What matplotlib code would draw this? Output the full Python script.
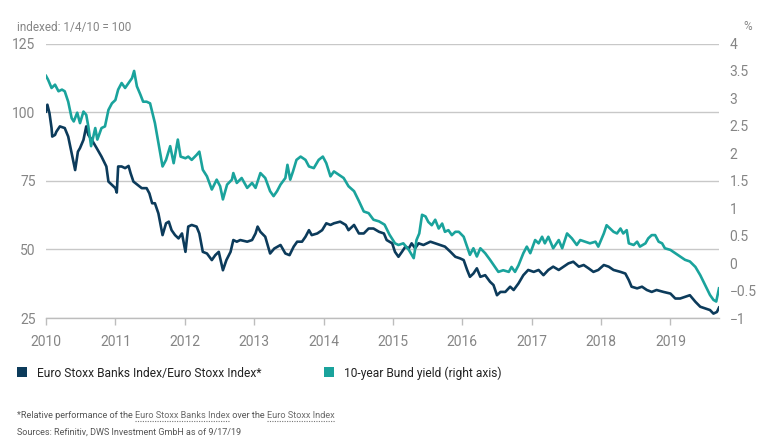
import matplotlib
matplotlib.use("Agg")
import matplotlib.pyplot as plt
from matplotlib import font_manager
from matplotlib.lines import Line2D
from matplotlib.patches import Rectangle

# ---------------- data ----------------
bank_years = [
    2010.00, 2010.02, 2010.05, 2010.08, 2010.09, 2010.13, 2010.15, 2010.20, 2010.27, 2010.32,
    2010.37, 2010.42, 2010.46, 2010.49, 2010.54, 2010.58, 2010.61, 2010.66, 2010.73, 2010.80,
    2010.87, 2010.90, 2010.95, 2011.00, 2011.02, 2011.04, 2011.09, 2011.14, 2011.19, 2011.22,
    2011.26, 2011.32, 2011.38, 2011.45, 2011.49, 2011.53, 2011.57, 2011.62, 2011.68, 2011.73,
    2011.77, 2011.81, 2011.86, 2011.91, 2011.96, 2012.01, 2012.05, 2012.10, 2012.17, 2012.21,
    2012.26, 2012.32, 2012.39, 2012.44, 2012.49, 2012.55, 2012.60, 2012.66, 2012.70, 2012.75,
    2012.80, 2012.90, 2012.97, 2013.02, 2013.05, 2013.09, 2013.16, 2013.23, 2013.29, 2013.38,
    2013.45, 2013.51, 2013.57, 2013.62, 2013.69, 2013.74, 2013.79, 2013.83, 2013.91, 2013.98,
    2014.04, 2014.10, 2014.15, 2014.24, 2014.32, 2014.36, 2014.44, 2014.51, 2014.58, 2014.65,
    2014.72, 2014.80, 2014.87, 2014.91, 2014.99, 2015.03, 2015.08, 2015.13, 2015.18, 2015.23,
    2015.27, 2015.32, 2015.37, 2015.44, 2015.54, 2015.61, 2015.68, 2015.75, 2015.83, 2015.90,
    2015.97, 2016.02, 2016.07, 2016.11, 2016.16, 2016.21, 2016.26, 2016.33, 2016.40, 2016.45,
    2016.50, 2016.55, 2016.62, 2016.69, 2016.74, 2016.81, 2016.88, 2016.95, 2017.03, 2017.10,
    2017.17, 2017.24, 2017.31, 2017.39, 2017.46, 2017.53, 2017.60, 2017.68, 2017.75, 2017.82,
    2017.89, 2017.96, 2018.04, 2018.11, 2018.18, 2018.28, 2018.35, 2018.40, 2018.44, 2018.52,
    2018.59, 2018.66, 2018.73, 2018.80, 2018.90, 2019.00, 2019.07, 2019.14, 2019.21, 2019.28,
    2019.36, 2019.43, 2019.50, 2019.57, 2019.62, 2019.67, 2019.70,
]
bank_ratio = [
    100.2, 102.7, 99.6, 94.2, 91.1, 91.7, 92.9, 94.8, 94.2, 91.1,
    85.0, 78.9, 85.6, 86.9, 89.9, 94.8, 91.7, 89.9, 86.9, 83.8,
    80.2, 74.7, 73.5, 72.3, 70.7, 80.2, 80.2, 79.6, 80.4, 77.7,
    74.7, 73.5, 72.3, 72.3, 70.4, 66.8, 66.8, 63.1, 55.2, 59.5,
    60.1, 57.0, 55.2, 54.0, 55.8, 49.1, 58.3, 58.9, 58.3, 55.8,
    49.1, 48.5, 46.1, 47.9, 49.1, 42.4, 46.1, 49.1, 53.4, 52.8,
    53.4, 52.8, 53.4, 55.8, 58.3, 56.4, 54.6, 48.5, 50.3, 51.6,
    48.5, 47.9, 51.0, 52.8, 52.8, 54.6, 57.0, 55.2, 55.8, 57.0,
    59.5, 58.9, 59.5, 60.1, 58.9, 57.0, 58.9, 55.8, 55.8, 57.6,
    57.6, 56.4, 55.8, 53.4, 52.2, 49.1, 47.3, 49.1, 51.0, 50.4,
    52.2, 50.4, 52.2, 51.6, 52.8, 52.2, 51.6, 51.0, 49.1, 47.3,
    46.7, 46.1, 42.5, 40.0, 41.2, 43.1, 40.0, 40.6, 38.2, 37.0,
    33.3, 34.5, 34.5, 36.4, 35.2, 37.6, 40.6, 42.5, 41.8, 42.5,
    40.6, 42.5, 43.7, 42.5, 43.7, 44.9, 45.5, 43.7, 44.3, 43.1,
    41.8, 42.5, 44.3, 43.7, 42.5, 41.8, 41.2, 38.8, 36.4, 35.8,
    36.4, 35.2, 34.5, 35.2, 34.5, 33.9, 32.1, 32.1, 32.7, 33.3,
    30.9, 29.1, 28.5, 27.9, 26.6, 27.2, 28.8,
]

bund_years = [
    2010.00, 2010.03, 2010.08, 2010.13, 2010.18, 2010.23, 2010.27, 2010.32, 2010.37, 2010.40,
    2010.45, 2010.49, 2010.54, 2010.58, 2010.61, 2010.65, 2010.71, 2010.74, 2010.80, 2010.85,
    2010.90, 2010.95, 2011.00, 2011.04, 2011.09, 2011.14, 2011.19, 2011.24, 2011.27, 2011.31,
    2011.36, 2011.40, 2011.45, 2011.50, 2011.54, 2011.57, 2011.62, 2011.68, 2011.73, 2011.79,
    2011.84, 2011.90, 2011.94, 2012.01, 2012.05, 2012.10, 2012.17, 2012.21, 2012.26, 2012.32,
    2012.39, 2012.46, 2012.51, 2012.55, 2012.61, 2012.68, 2012.70, 2012.75, 2012.82, 2012.90,
    2012.97, 2013.02, 2013.09, 2013.16, 2013.23, 2013.28, 2013.33, 2013.38, 2013.45, 2013.48,
    2013.52, 2013.56, 2013.61, 2013.67, 2013.74, 2013.79, 2013.86, 2013.93, 2013.99, 2014.04,
    2014.10, 2014.15, 2014.22, 2014.29, 2014.36, 2014.44, 2014.51, 2014.58, 2014.65, 2014.72,
    2014.80, 2014.88, 2014.95, 2015.03, 2015.08, 2015.15, 2015.23, 2015.30, 2015.34, 2015.38,
    2015.42, 2015.47, 2015.51, 2015.56, 2015.61, 2015.66, 2015.71, 2015.75, 2015.80, 2015.85,
    2015.90, 2015.95, 2016.02, 2016.07, 2016.11, 2016.16, 2016.21, 2016.26, 2016.33, 2016.40,
    2016.47, 2016.52, 2016.59, 2016.67, 2016.71, 2016.76, 2016.81, 2016.88, 2016.93, 2016.98,
    2017.05, 2017.10, 2017.15, 2017.19, 2017.24, 2017.31, 2017.39, 2017.44, 2017.51, 2017.58,
    2017.65, 2017.70, 2017.77, 2017.84, 2017.92, 2017.96, 2018.04, 2018.08, 2018.13, 2018.18,
    2018.23, 2018.28, 2018.32, 2018.37, 2018.40, 2018.47, 2018.52, 2018.56, 2018.64, 2018.68,
    2018.73, 2018.78, 2018.83, 2018.88, 2018.92, 2019.00, 2019.07, 2019.14, 2019.21, 2019.28,
    2019.36, 2019.43, 2019.50, 2019.57, 2019.62, 2019.66, 2019.70,
]
bund_yield = [
    3.41, 3.34, 3.19, 3.25, 3.13, 3.16, 3.13, 2.94, 2.64, 2.58,
    2.74, 2.55, 2.76, 2.70, 2.49, 2.13, 2.46, 2.25, 2.46, 2.49,
    2.79, 2.91, 2.97, 3.16, 3.28, 3.19, 3.28, 3.37, 3.50, 3.22,
    3.07, 2.94, 2.94, 2.91, 2.70, 2.55, 2.19, 1.76, 1.88, 2.13,
    1.82, 2.25, 1.94, 1.91, 1.94, 1.88, 1.97, 2.03, 1.70, 1.58,
    1.34, 1.52, 1.40, 1.16, 1.43, 1.52, 1.64, 1.46, 1.55, 1.37,
    1.46, 1.37, 1.64, 1.55, 1.31, 1.22, 1.31, 1.43, 1.55, 1.79,
    1.52, 1.67, 1.88, 1.94, 1.88, 1.76, 1.73, 1.88, 1.94, 1.82,
    1.58, 1.67, 1.61, 1.55, 1.40, 1.31, 1.13, 0.94, 0.91, 0.79,
    0.76, 0.70, 0.52, 0.36, 0.33, 0.36, 0.24, 0.09, 0.42, 0.54,
    0.88, 0.85, 0.75, 0.69, 0.79, 0.63, 0.72, 0.57, 0.60, 0.51,
    0.57, 0.57, 0.48, 0.30, 0.15, 0.27, 0.12, 0.27, 0.18, 0.06,
    -0.07, -0.16, -0.13, -0.16, -0.07, -0.16, -0.04, 0.18, 0.30, 0.18,
    0.42, 0.36, 0.48, 0.36, 0.48, 0.27, 0.42, 0.27, 0.54, 0.45,
    0.33, 0.42, 0.39, 0.36, 0.39, 0.30, 0.54, 0.69, 0.63, 0.57,
    0.54, 0.63, 0.54, 0.60, 0.36, 0.33, 0.39, 0.30, 0.36, 0.45,
    0.51, 0.51, 0.39, 0.36, 0.27, 0.24, 0.18, 0.12, 0.06, 0.03,
    -0.07, -0.22, -0.40, -0.58, -0.67, -0.70, -0.46,
]

year_ticks = list(range(2010, 2020))
left_ticks = [25, 50, 75, 100, 125]
right_ticks = [-1, -0.5, 0, 0.5, 1, 1.5, 2, 2.5, 3, 3.5, 4]

label_bank = "Euro Stoxx Banks Index/Euro Stoxx Index*"
label_bund = "10-year Bund yield (right axis)"
left_title = "indexed: 1/4/10 = 100"
right_title = "%"
foot_parts = ["*Relative performance of the ", "Euro Stoxx Banks Index", " over the ", "Euro Stoxx Index"]
foot_links = [False, True, False, True]
source_text = "Sources: Refinitiv, DWS Investment GmbH as of 9/17/19"

# ---------------- style ----------------
available = {f.name for f in font_manager.fontManager.ttflist}
FONT = 'Liberation Sans Narrow' if 'Liberation Sans Narrow' in available else 'Roboto'
plt.rcParams['font.family'] = [FONT, 'DejaVu Sans']

NAVY = '#0c3b5b'
TEAL = '#1aa39c'
GRID = '#c8c8c8'
TICK = '#858585'
TEXT = '#222222'
FOOT = '#555555'

W, H = 768, 442
fig = plt.figure(figsize=(W / 100, H / 100), dpi=100)
L, R, T, B = 46, 719, 43.5, 318
ax = fig.add_axes([L / W, 1 - B / H, (R - L) / W, (B - T) / H])
ax2 = ax.twinx()

ax.plot(bank_years, bank_ratio, color=NAVY, lw=1.9, solid_joinstyle='round')
ax2.plot(bund_years, bund_yield, color=TEAL, lw=1.9, solid_joinstyle='round')

ax.set_xlim(2010.0, 2019.70)
ax.set_ylim(25, 125)
ax2.set_ylim(-1, 4)

ax.set_xticks(year_ticks)
ax.set_xticklabels([str(y) for y in year_ticks])
ax.set_yticks(left_ticks)
ax.set_yticklabels([str(v) for v in left_ticks])
ax2.set_yticks(right_ticks)
ax2.set_yticklabels([(f"{v:g}").replace('-', '\u2212') for v in right_ticks])

for a in (ax, ax2):
    for s in ('top', 'left', 'right'):
        a.spines[s].set_visible(False)
    a.spines['bottom'].set_color('#bdbdbd')
    a.spines['bottom'].set_linewidth(1.0)
ax2.spines['bottom'].set_visible(False)

ax.yaxis.grid(True, color=GRID, lw=1.0)
ax.set_axisbelow(True)
ax.tick_params(axis='x', direction='out', length=5, width=1, color='#bdbdbd',
               labelcolor=TICK, labelsize=10, pad=7)
ax.tick_params(axis='y', length=0, labelcolor=TICK, labelsize=10, pad=7.5)
ax2.tick_params(axis='y', length=0, labelcolor=TICK, labelsize=10, pad=7.5)

fig.canvas.draw()
renderer = fig.canvas.get_renderer()


def text_w(s, size):
    t = fig.text(0, 0, s + '|', fontsize=size)
    w1 = t.get_window_extent(renderer).width
    t.set_text('|')
    w2 = t.get_window_extent(renderer).width
    t.remove()
    return w1 - w2


def fit_size(s, width_px):
    return 10 * width_px / text_w(s, 10)


def put(x_px, y_px, s, size, **kw):
    return fig.text(x_px / W, 1 - y_px / H, s, fontsize=size, va='baseline', ha='left', **kw)


# titles
put(17, 30.5, left_title, fit_size(left_title, 115), color=TICK)
fig.text(752 / W, 1 - 30.5 / H, right_title, fontsize=fit_size(left_title, 115),
         va='baseline', ha='right', color=TICK)

# legend
leg_size = fit_size(label_bank, 224)
for x_sq, col, lab in ((17, NAVY, label_bank), (324, TEAL, label_bund)):
    fig.patches.append(Rectangle((x_sq / W, 1 - 377 / H), 10 / W, 10 / H,
                                 transform=fig.transFigure, facecolor=col, edgecolor='none'))
    put(x_sq + 20, 376.5, lab, leg_size, color=TEXT)

# footnotes
full = ''.join(foot_parts)
fsize = fit_size(full, 319)
x = 17
for part, link in zip(foot_parts, foot_links):
    w = text_w(part, fsize)
    put(x, 418, part, fsize, color='#6b6b6b' if link else FOOT)
    if link:
        fig.add_artist(Line2D([x / W, (x + w) / W], [1 - 420.5 / H, 1 - 420.5 / H],
                              transform=fig.transFigure, color='#777777', lw=0.8,
                              linestyle=(0, (1, 1.2))))
    x += w

put(17, 434.5, source_text, fit_size(source_text, 226), color=FOOT)

fig.savefig('out.png', dpi=100)
